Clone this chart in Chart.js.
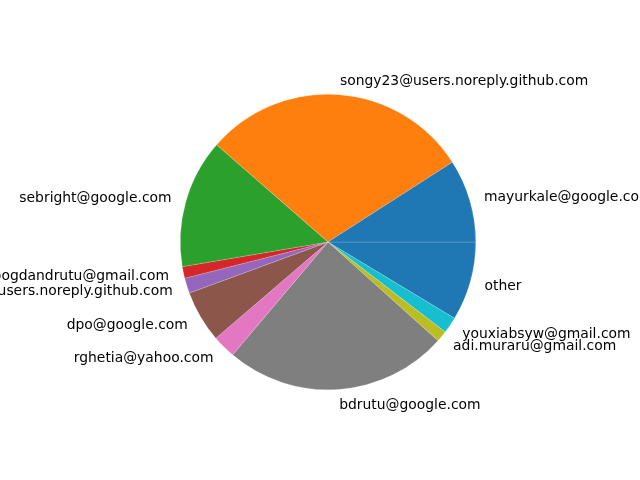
<!DOCTYPE html>
<html>
<head>
<meta charset="utf-8">
<script src="https://cdn.jsdelivr.net/npm/chart.js@4/dist/chart.umd.min.js"></script>
<style>
    html, body { margin: 0; padding: 0; background: #ffffff; }
    #wrap { width: 640px; height: 480px; }
</style>
</head>
<body>
<div id="wrap"><canvas id="authorsPie" width="640" height="480"></canvas></div>
<script>
// Dados do gráfico (ordem do matplotlib, sentido anti-horário a partir das 3h)
const authors = [
    'mayurkale@google.com',
    'songy23@users.noreply.github.com',
    'sebright@google.com',
    'bogdandrutu@gmail.com',
    'rghetia@users.noreply.github.com',
    'dpo@google.com',
    'rghetia@yahoo.com',
    'bdrutu@google.com',
    'adi.muraru@gmail.com',
    'youxiabsyw@gmail.com',
    'other'
];
const commits = [32.7, 106.2, 50.7, 4.6, 6.0, 20.4, 9.2, 88.3, 4.4, 6.4, 31.1];
const sliceColors = [
    '#1f77b4', '#ff7f0e', '#2ca02c', '#d62728', '#9467bd',
    '#8c564b', '#e377c2', '#7f7f7f', '#bcbd22', '#17becf', '#1f77b4'
];

// Chart.js desenha no sentido horário, então invertemos a ordem
const labelsCw = authors.slice().reverse();
const valuesCw = commits.slice().reverse();
const colorsCw = sliceColors.slice().reverse();

// Plugin: rótulos fora da pizza, como no matplotlib (labeldistance 1.1)
const outsideLabels = {
    id: 'outsideLabels',
    afterDraw(chart) {
        const ctx = chart.ctx;
        const meta = chart.getDatasetMeta(0);
        ctx.save();
        ctx.font = '13.9px "DejaVu Sans", sans-serif';
        ctx.fillStyle = '#000000';
        ctx.textBaseline = 'middle';
        meta.data.forEach((arc, i) => {
            const p = arc.getProps(['x', 'y', 'startAngle', 'endAngle', 'outerRadius'], true);
            const mid = (p.startAngle + p.endAngle) / 2;
            const xt = p.x + 1.1 * p.outerRadius * Math.cos(mid);
            const yt = p.y + 1.1 * p.outerRadius * Math.sin(mid);
            ctx.textAlign = Math.cos(mid) > 0 ? 'left' : 'right';
            ctx.fillText(chart.data.labels[i], xt, yt + 1);
        });
        ctx.restore();
    }
};

const ctx = document.getElementById('authorsPie').getContext('2d');
new Chart(ctx, {
    type: 'pie',
    data: {
        labels: labelsCw,
        datasets: [{
            data: valuesCw,
            backgroundColor: colorsCw,
            borderColor: 'rgba(255, 255, 255, 0.35)',
            borderWidth: 0.5
        }]
    },
    options: {
        responsive: false,
        animation: false,
        rotation: 90,
        layout: { padding: { left: 180, right: 164, top: 94, bottom: 90 } },
        plugins: {
            legend: { display: false },
            tooltip: { enabled: false }
        }
    },
    plugins: [outsideLabels]
});
</script>
</body>
</html>
